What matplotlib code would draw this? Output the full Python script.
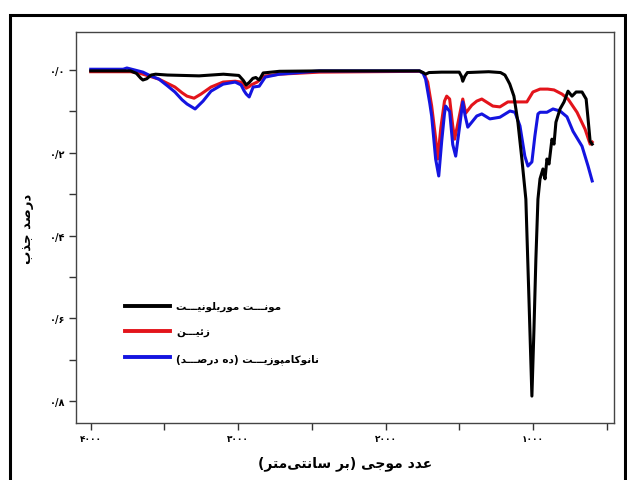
import matplotlib
matplotlib.use("Agg")
import matplotlib.pyplot as plt
from matplotlib.patches import Rectangle
from matplotlib.ticker import FixedLocator

# ---------------- data ----------------
black_wn = [4000, 3730, 3690, 3660, 3646, 3620, 3590, 3560, 3480, 3265, 3100, 2995, 2965, 2945, 2925, 2900, 2880, 2857, 2830, 2720,
            2450, 2000, 1770, 1745, 1728, 1705, 1620, 1500, 1485, 1476, 1462, 1445, 1300, 1220, 1190, 1170, 1157, 1129, 1102, 1075,
            1048, 1027, 1007, 993, 980, 966, 952, 932, 918, 905, 891, 871, 857, 844, 816, 789, 762, 735, 707, 667,
            639, 626, 612, 598]
black_abs = [0.002, 0.002, 0.008, 0.020, 0.024, 0.021, 0.012, 0.010, 0.012, 0.014, 0.010, 0.013, 0.025, 0.036, 0.030, 0.020, 0.018, 0.024, 0.007, 0.003,
             0.002, 0.002, 0.002, 0.006, 0.010, 0.006, 0.005, 0.005, 0.015, 0.027, 0.015, 0.006, 0.004, 0.006, 0.012, 0.025, 0.034, 0.063, 0.126, 0.215,
             0.312, 0.553, 0.788, 0.626, 0.457, 0.312, 0.263, 0.239, 0.263, 0.215, 0.227, 0.167, 0.179, 0.126, 0.094, 0.077, 0.051, 0.063, 0.053, 0.053,
             0.070, 0.118, 0.172, 0.179]

red_wn = [4000, 3730, 3673, 3600, 3537, 3480, 3429, 3380, 3347, 3299, 3252, 3184, 3102, 3020, 2980, 2960, 2946, 2925, 2912, 2871,
          2830, 2721, 2449, 1769, 1740, 1714, 1687, 1660, 1646, 1625, 1600, 1585, 1565, 1544, 1531, 1503, 1476, 1456, 1415, 1381,
          1347, 1272, 1224, 1170, 1088, 1041, 1000, 952, 900, 857, 803, 762, 701, 646, 612, 598]
red_abs = [0.004, 0.004, 0.007, 0.015, 0.022, 0.032, 0.041, 0.055, 0.063, 0.068, 0.058, 0.041, 0.029, 0.027, 0.029, 0.036, 0.044, 0.040, 0.036, 0.029,
           0.015, 0.010, 0.005, 0.003, 0.008, 0.029, 0.087, 0.165, 0.215, 0.140, 0.075, 0.063, 0.070, 0.135, 0.167, 0.118, 0.070, 0.104, 0.085, 0.075,
           0.070, 0.087, 0.089, 0.077, 0.077, 0.077, 0.053, 0.046, 0.046, 0.048, 0.058, 0.070, 0.102, 0.143, 0.179, 0.174]

blue_wn = [4000, 3780, 3755, 3700, 3646, 3600, 3537, 3480, 3429, 3380, 3347, 3292, 3238, 3184, 3102, 3020, 2980, 2960, 2945, 2925,
           2898, 2857, 2816, 2721, 2449, 1769, 1745, 1728, 1700, 1687, 1660, 1639, 1619, 1600, 1592, 1565, 1544, 1524, 1497, 1476,
           1460, 1442, 1381, 1347, 1292, 1224, 1156, 1122, 1088, 1055, 1034, 1007, 987, 966, 952, 905, 864, 816, 769, 728,
           667, 626, 598]
blue_abs = [-0.002, -0.002, -0.005, 0.000, 0.005, 0.013, 0.022, 0.038, 0.053, 0.072, 0.082, 0.094, 0.075, 0.051, 0.034, 0.029, 0.036, 0.050, 0.058, 0.065,
            0.041, 0.039, 0.017, 0.010, 0.002, 0.002, 0.008, 0.022, 0.080, 0.111, 0.215, 0.256, 0.172, 0.105, 0.087, 0.100, 0.180, 0.208, 0.135, 0.077,
            0.110, 0.138, 0.111, 0.106, 0.118, 0.114, 0.099, 0.102, 0.135, 0.208, 0.232, 0.222, 0.160, 0.106, 0.102, 0.102, 0.094, 0.099, 0.113, 0.148,
            0.184, 0.232, 0.268]

x_ticks = [4000, 3000, 2000, 1000]
x_tick_labels = ["۴۰۰۰", "۳۰۰۰", "۲۰۰۰", "۱۰۰۰"]
y_ticks = [0.0, 0.2, 0.4, 0.6, 0.8]
y_tick_labels = ["۰/۰", "۰/۲", "۰/۴", "۰/۶", "۰/۸"]

label_black = "مونـــت موریلونیـــت"
label_red = "زئیـــن"
label_blue = "نانوکامپوزیـــت (ده درصـــد)"
x_title = "عدد موجی (بر سانتی\u200cمتر)"
y_title = "درصد جذب"

# ------------- minimal Persian shaping (visual order) -------------
FORMS = {
    'ا': ('\uFE8D', '\uFE8E', None, None),
    'ب': ('\uFE8F', '\uFE90', '\uFE91', '\uFE92'),
    'پ': ('\uFB56', '\uFB57', '\uFB58', '\uFB59'),
    'ت': ('\uFE95', '\uFE96', '\uFE97', '\uFE98'),
    'ج': ('\uFE9D', '\uFE9E', '\uFE9F', '\uFEA0'),
    'د': ('\uFEA9', '\uFEAA', None, None),
    'ذ': ('\uFEAB', '\uFEAC', None, None),
    'ر': ('\uFEAD', '\uFEAE', None, None),
    'ز': ('\uFEAF', '\uFEB0', None, None),
    'س': ('\uFEB1', '\uFEB2', '\uFEB3', '\uFEB4'),
    'ص': ('\uFEB9', '\uFEBA', '\uFEBB', '\uFEBC'),
    'ع': ('\uFEC9', '\uFECA', '\uFECB', '\uFECC'),
    'ک': ('\uFB8E', '\uFB8F', '\uFB90', '\uFB91'),
    'ل': ('\uFEDD', '\uFEDE', '\uFEDF', '\uFEE0'),
    'م': ('\uFEE1', '\uFEE2', '\uFEE3', '\uFEE4'),
    'ن': ('\uFEE5', '\uFEE6', '\uFEE7', '\uFEE8'),
    'ه': ('\uFEE9', '\uFEEA', '\uFEEB', '\uFEEC'),
    'و': ('\uFEED', '\uFEEE', None, None),
    'ی': ('\uFBFC', '\uFBFD', '\uFBFE', '\uFBFF'),
    'ئ': ('\uFE89', '\uFE8A', '\uFE8B', '\uFE8C'),
    'ـ': ('\u0640', '\u0640', '\u0640', '\u0640'),
}


def fa(s):
    out = []
    for i, c in enumerate(s):
        if c not in FORMS:
            if c != '\u200c':
                out.append(c)
            continue
        prev = s[i - 1] if i > 0 else ''
        nxt = s[i + 1] if i + 1 < len(s) else ''
        jp = prev in FORMS and FORMS[prev][2] is not None
        jn = FORMS[c][2] is not None and nxt in FORMS
        iso, fin, ini, med = FORMS[c]
        if jp and jn:
            out.append(med)
        elif jp:
            out.append(fin)
        elif jn:
            out.append(ini)
        else:
            out.append(iso)
    vis = ''.join(out)[::-1]
    return vis.translate(str.maketrans('()', ')('))


plt.rcParams['font.family'] = ['DejaVu Sans']

fig = plt.figure(figsize=(6.27, 4.81), dpi=100)
ax = fig.add_axes([76 / 627, 1 - 424 / 481, 538 / 627, 391 / 481])

lw = 2.2
ax.plot(red_wn, red_abs, color='#e3141b', lw=lw, label=fa(label_red), zorder=2)
ax.plot(blue_wn, blue_abs, color='#1414e0', lw=lw, label=fa(label_blue), zorder=3)
ax.plot(black_wn, black_abs, color='black', lw=lw, label=fa(label_black), zorder=4)

ax.set_xlim(4100, 450)
ax.set_ylim(0.853, -0.092)

ax.xaxis.set_major_locator(FixedLocator(x_ticks))
ax.set_xticklabels(x_tick_labels)
ax.xaxis.set_minor_locator(FixedLocator([3500, 2500, 1500, 500]))
ax.yaxis.set_major_locator(FixedLocator(y_ticks))
ax.set_yticklabels(y_tick_labels)
ax.yaxis.set_minor_locator(FixedLocator([0.1, 0.3, 0.5, 0.7]))

ax.tick_params(which='both', direction='out', length=5, width=1.0, color='#333333',
               top=False, right=False)
ax.tick_params(axis='x', which='major', labelsize=6.5, pad=3)
ax.tick_params(axis='y', which='major', labelsize=7, pad=3)
for lab in ax.get_xticklabels() + ax.get_yticklabels():
    lab.set_fontweight('bold')

for sp in ax.spines.values():
    sp.set_color('#444444')
    sp.set_linewidth(1.0)

ax.set_xlabel(fa(x_title), fontsize=10, fontweight='bold', labelpad=9)
ax.set_ylabel(fa(y_title), fontsize=9.5, fontweight='bold', labelpad=11)

h, l = ax.get_legend_handles_labels()
order = [2, 0, 1]
leg = ax.legend([h[i] for i in order], [l[i] for i in order], loc='upper left',
                bbox_to_anchor=((120 - 76) / 538, 1 - (297 - 33) / 391),
                frameon=False, handlelength=4.3, handletextpad=0.6,
                labelspacing=1.5, borderpad=0.0, prop={'weight': 'bold', 'size': 7.5})
for line in leg.get_lines():
    line.set_linewidth(2.8)

# outer figure frame
fig.patches.append(Rectangle((10 / 627, -0.1), (625 - 10) / 627, 1.1 - 16 / 481,
                             transform=fig.transFigure, fill=False, edgecolor='black',
                             linewidth=2.2, clip_on=False))

fig.savefig('out.png', dpi=100)
